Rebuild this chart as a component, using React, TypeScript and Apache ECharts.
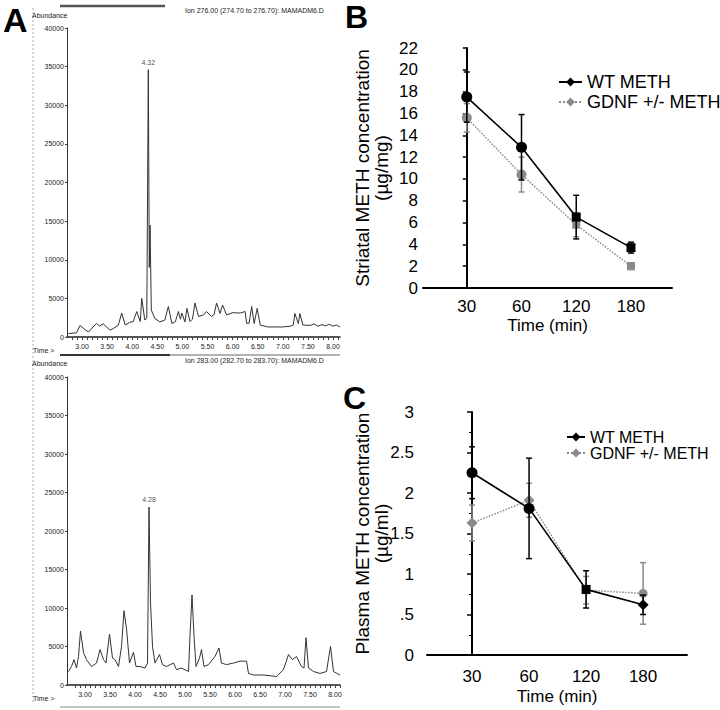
import React, { useEffect, useRef } from "react";
import * as echarts from "echarts";

// ---------- Panel A: chromatograms ----------
const chromTimeLabels = [3, 3.5, 4, 4.5, 5, 5.5, 6, 6.5, 7, 7.5, 8];

const topTimes = [2.73, 2.89, 2.96, 3.05, 3.13, 3.22, 3.29, 3.35, 3.42, 3.56, 3.62, 3.72, 3.79, 3.86, 3.95, 4.02, 4.09, 4.16, 4.19, 4.25, 4.29, 4.32, 4.34, 4.355, 4.38, 4.45, 4.55, 4.65, 4.72, 4.79, 4.86, 4.92, 4.96, 4.99, 5.05, 5.09, 5.15, 5.2, 5.25, 5.32, 5.42, 5.48, 5.58, 5.63, 5.68, 5.75, 5.8, 5.88, 6.0, 6.15, 6.25, 6.28, 6.33, 6.38, 6.43, 6.49, 6.55, 6.7, 6.85, 7.0, 7.15, 7.21, 7.24, 7.31, 7.34, 7.4, 7.55, 7.62, 7.7, 7.78, 7.85, 7.93, 8.0, 8.07, 8.14];
const topAbundance = [440, 550, 1500, 1000, 650, 1300, 1750, 1400, 1700, 880, 1100, 1500, 3100, 1550, 1900, 2000, 3300, 2000, 5000, 2200, 2400, 34600, 9000, 14500, 3500, 2400, 1950, 2200, 3950, 1750, 2000, 3300, 2300, 3100, 1950, 3700, 2000, 2300, 4400, 2650, 2850, 3300, 2650, 2900, 4400, 3050, 4150, 2850, 3150, 3100, 3300, 1750, 1800, 3950, 1750, 3700, 1550, 1300, 1300, 1300, 1400, 1550, 3050, 1750, 3050, 1550, 1500, 1700, 1400, 1600, 1450, 1650, 1400, 1550, 1300];
const topPeakTime = [4.32];
const topPeakAbundance = [34600];
const topPeakLabel = ["4.32"];

const bottomTimes = [2.67, 2.73, 2.78, 2.83, 2.87, 2.91, 2.97, 3.03, 3.13, 3.23, 3.3, 3.37, 3.42, 3.49, 3.55, 3.6, 3.67, 3.73, 3.78, 3.83, 3.89, 3.97, 4.02, 4.1, 4.2, 4.25, 4.28, 4.31, 4.35, 4.4, 4.49, 4.55, 4.63, 4.77, 4.83, 4.93, 5.07, 5.1, 5.14, 5.18, 5.22, 5.29, 5.33, 5.38, 5.47, 5.6, 5.68, 5.73, 5.83, 5.97, 6.1, 6.23, 6.27, 6.37, 6.57, 6.83, 6.97, 7.07, 7.15, 7.23, 7.33, 7.38, 7.42, 7.47, 7.57, 7.7, 7.83, 7.91, 7.97, 8.1];
const bottomAbundance = [1750, 2400, 3300, 2200, 3700, 7000, 4200, 3300, 2400, 2850, 4600, 3300, 2850, 6600, 3500, 3300, 2400, 5000, 9650, 7300, 2850, 4250, 2400, 2400, 2200, 2850, 23100, 10750, 5000, 2850, 3950, 2650, 2400, 2850, 2000, 2200, 1750, 6400, 11700, 6400, 2400, 3500, 4600, 2400, 2650, 3700, 4800, 2850, 2650, 2850, 3100, 3100, 1500, 1300, 1300, 1100, 2000, 3950, 3300, 3700, 2400, 2200, 6150, 2200, 1750, 1500, 1750, 5000, 1750, 1300];
const bottomPeakTime = [4.28];
const bottomPeakAbundance = [23100];
const bottomPeakLabel = ["4.28"];

// ---------- Panels B & C ----------
const timeCategories = ["30", "60", "120", "180"];

const striatalWT = [17.5, 12.9, 6.5, 3.7];
const striatalWTErr = [2.3, 3.0, 2.0, 0.5];
const striatalGDNF = [15.6, 10.4, 5.8, 2.0];
const striatalGDNFErr = [1.3, 1.6, 1.1, 0.3];

const plasmaWT = [2.25, 1.81, 0.81, 0.62];
const plasmaWTErr = [0.32, 0.62, 0.23, 0.12];
const plasmaGDNF = [1.63, 1.91, 0.8, 0.76];
const plasmaGDNFErr = [0.22, 0.21, 0.17, 0.38];

const SANS = "'Liberation Sans', Arial, sans-serif";
const GRAY = "#8a8a8a";

const chromTicks: number[] = [];
for (let k = 28; k <= 81; k++) chromTicks.push(k / 10);

function chromX(gridIndex: number, min: number, max: number) {
  return {
    type: "value", gridIndex, min, max,
    axisLine: { show: true, onZero: false, lineStyle: { color: "#222", width: 1.5 } },
    axisTick: { show: true, customValues: chromTicks, length: 3, lineStyle: { color: "#444" } },
    axisLabel: { customValues: chromTimeLabels, formatter: (v: number) => v.toFixed(2), fontSize: 7, fontFamily: SANS, color: "#222", margin: 6 },
    splitLine: { show: false },
  };
}
function chromY(gridIndex: number) {
  return {
    type: "value", gridIndex, min: 0, max: 40000, interval: 5000,
    axisLine: { show: true, lineStyle: { color: "#333", width: 1 } },
    axisTick: { show: true, length: 2, lineStyle: { color: "#444" } },
    axisLabel: { fontSize: 7, fontFamily: SANS, color: "#222", margin: 3, formatter: (v: number) => String(v) },
    splitLine: { show: false },
  };
}

function errorBars(xi: number, vals: number[], errs: number[], color: string, z: number) {
  return {
    type: "custom", xAxisIndex: xi, yAxisIndex: xi, z, silent: true,
    data: vals.map((v, i) => [i, v - errs[i], v + errs[i]]),
    encode: { x: 0, y: [1, 2] },
    renderItem: (params: any, api: any) => {
      const x = api.value(0);
      const top = api.coord([x, api.value(2)]);
      const bot = api.coord([x, api.value(1)]);
      const w = 3;
      const st = { stroke: color, lineWidth: 1.5 };
      return {
        type: "group",
        children: [
          { type: "line", shape: { x1: top[0], y1: top[1], x2: bot[0], y2: bot[1] }, style: st },
          { type: "line", shape: { x1: top[0] - w, y1: top[1], x2: top[0] + w, y2: top[1] }, style: st },
          { type: "line", shape: { x1: bot[0] - w, y1: bot[1], x2: bot[0] + w, y2: bot[1] }, style: st },
        ],
      };
    },
  };
}

function lineSeries(name: string, xi: number, vals: number[], symbols: string[], sizes: number[], color: string, dotted: boolean, z: number) {
  return {
    type: "line", name, xAxisIndex: xi, yAxisIndex: xi, z,
    symbol: "diamond", symbolSize: 10,
    data: vals.map((v, i) => ({ value: [i, v], symbol: symbols[i], symbolSize: sizes[i] })),
    lineStyle: { color, width: dotted ? 1.5 : 1.6, type: dotted ? "dotted" : "solid" },
    itemStyle: { color },
  };
}

function catX(gridIndex: number, min: number, max: number, margin: number, nameGap: number) {
  return {
    type: "value", gridIndex, min, max,
    axisLine: { show: true, onZero: false, lineStyle: { color: "#000", width: 2 } },
    axisTick: { show: false },
    axisLabel: { customValues: [0, 1, 2, 3], formatter: (v: number) => timeCategories[Math.round(v)], fontSize: 17, fontFamily: SANS, color: "#000", margin },
    splitLine: { show: false },
    name: "Time (min)", nameLocation: "middle", nameGap, nameMoveOverlap: false,
    nameTextStyle: { fontSize: 17, fontFamily: SANS, color: "#000" },
  };
}

function buildOption() {
  return {
    animation: false,
    backgroundColor: "#fff",
    grid: [
      { left: 67, top: 28, width: 273, height: 309, outerBoundsMode: "none" },
      { left: 67, top: 377, width: 273, height: 308, outerBoundsMode: "none" },
      { left: 423, top: 48, width: 249, height: 240, outerBoundsMode: "none" },
      { left: 427, top: 412, width: 260, height: 243, outerBoundsMode: "none" },
    ],
    xAxis: [
      chromX(0, 2.7, 8.14),
      chromX(1, 2.64, 8.1),
      catX(2, -0.8, 3.75, 10, 29),
      catX(3, -0.79, 3.77, 13, 33),
    ],
    yAxis: [
      chromY(0),
      chromY(1),
      {
        type: "value", gridIndex: 2, min: 0, max: 22, interval: 2,
        axisLine: { show: true, lineStyle: { color: "#000", width: 2 } },
        axisTick: { show: true, length: 4, lineStyle: { color: "#000", width: 1.5 } },
        axisLabel: { fontSize: 17, fontFamily: SANS, color: "#000", margin: 5 },
        splitLine: { show: false },
        name: "Striatal METH concentration\n(µg/mg)", nameLocation: "middle", nameGap: 32, nameMoveOverlap: false,
        nameTextStyle: { fontSize: 19, fontFamily: SANS, color: "#000", lineHeight: 19 },
      },
      {
        type: "value", gridIndex: 3, min: 0, max: 3, interval: 0.5,
        axisLine: { show: true, lineStyle: { color: "#000", width: 2 } },
        axisTick: { show: true, length: 5, lineStyle: { color: "#000", width: 1.5 } },
        minorTick: { show: true, splitNumber: 2, length: 3, lineStyle: { color: "#000", width: 1 } },
        axisLabel: { fontSize: 17, fontFamily: SANS, color: "#000", margin: 13, formatter: (v: number) => (v > 0 && v < 1 ? String(v).replace(/^0/, "") : String(v)) },
        splitLine: { show: false },
        name: "Plasma METH concentration\n(µg/ml)", nameLocation: "middle", nameGap: 36, nameMoveOverlap: false,
        nameTextStyle: { fontSize: 19, fontFamily: SANS, color: "#000", lineHeight: 19 },
      },
    ],
    legend: [
      {
        left: 558, top: 73, orient: "vertical", itemGap: 2, padding: 0, itemWidth: 23, itemHeight: 11,
        textStyle: { fontSize: 18, fontFamily: SANS, color: "#000", lineHeight: 18 },
        data: ["WT METH", "GDNF +/- METH"],
      },
      {
        left: 566, top: 429, orient: "vertical", itemGap: 0, padding: 0, itemWidth: 18, itemHeight: 11,
        textStyle: { fontSize: 16, fontFamily: SANS, color: "#000", lineHeight: 16 },
        data: ["WT METH", "GDNF +/- METH"],
      },
    ],
    series: [
      {
        type: "line", xAxisIndex: 0, yAxisIndex: 0, showSymbol: false, silent: true,
        data: topTimes.map((t, i) => [t, topAbundance[i]]),
        lineStyle: { color: "#333", width: 1 },
      },
      {
        type: "scatter", xAxisIndex: 0, yAxisIndex: 0, symbolSize: 0, silent: true,
        data: topPeakTime.map((t, i) => [t, topPeakAbundance[i]]),
        label: { show: true, position: "top", distance: 4, formatter: (p: any) => topPeakLabel[p.dataIndex], fontSize: 7, fontFamily: SANS, color: "#222" },
      },
      {
        type: "line", xAxisIndex: 1, yAxisIndex: 1, showSymbol: false, silent: true,
        data: bottomTimes.map((t, i) => [t, bottomAbundance[i]]),
        lineStyle: { color: "#333", width: 1 },
      },
      {
        type: "scatter", xAxisIndex: 1, yAxisIndex: 1, symbolSize: 0, silent: true,
        data: bottomPeakTime.map((t, i) => [t, bottomPeakAbundance[i]]),
        label: { show: true, position: "top", distance: 4, formatter: (p: any) => bottomPeakLabel[p.dataIndex], fontSize: 7, fontFamily: SANS, color: "#222" },
      },
      errorBars(2, striatalGDNF, striatalGDNFErr, GRAY, 2),
      lineSeries("GDNF +/- METH", 2, striatalGDNF, ["circle", "circle", "rect", "rect"], [10, 10, 8, 8], GRAY, true, 3),
      errorBars(2, striatalWT, striatalWTErr, "#000", 4),
      lineSeries("WT METH", 2, striatalWT, ["circle", "circle", "rect", "rect"], [11, 11, 9, 9], "#000", false, 5),
      errorBars(3, plasmaGDNF, plasmaGDNFErr, GRAY, 2),
      lineSeries("GDNF +/- METH", 3, plasmaGDNF, ["diamond", "diamond", "rect", "circle"], [11, 11, 8, 9], GRAY, true, 3),
      errorBars(3, plasmaWT, plasmaWTErr, "#000", 4),
      lineSeries("WT METH", 3, plasmaWT, ["circle", "circle", "rect", "diamond"], [11, 11, 9, 11], "#000", false, 5),
    ],
    graphic: [
      { type: "line", shape: { x1: 33, y1: 8, x2: 33, y2: 702 }, style: { stroke: "#aaa", lineWidth: 1, lineDash: [2, 2] }, silent: true },
      { type: "line", shape: { x1: 60, y1: 6, x2: 165, y2: 6 }, style: { stroke: "#555", lineWidth: 2.5 }, silent: true },
      { type: "line", shape: { x1: 60, y1: 355, x2: 340, y2: 355 }, style: { stroke: "#666", lineWidth: 1.2 }, silent: true },
      { type: "line", shape: { x1: 60, y1: 355, x2: 170, y2: 355 }, style: { stroke: "#333", lineWidth: 2 }, silent: true },
      { type: "line", shape: { x1: 60, y1: 707, x2: 340, y2: 707 }, style: { stroke: "#888", lineWidth: 1.2 }, silent: true },
      { type: "text", left: 3, top: 3, style: { text: "A", fontSize: 34, fontWeight: "bold", fontFamily: SANS, fill: "#000" } },
      { type: "text", x: 345, y: 17, style: { text: "B", fontSize: 32, fontWeight: "bold", fontFamily: SANS, fill: "#000", verticalAlign: "middle" } },
      { type: "text", x: 343, y: 398, style: { text: "C", fontSize: 32, fontWeight: "bold", fontFamily: SANS, fill: "#000", verticalAlign: "middle" } },
      { type: "text", x: 32, y: 15, style: { text: "Abundance", fontSize: 7, fontFamily: SANS, fill: "#222", verticalAlign: "middle" } },
      { type: "text", x: 32, y: 363, style: { text: "Abundance", fontSize: 7, fontFamily: SANS, fill: "#222", verticalAlign: "middle" } },
      { type: "text", x: 33, y: 350, style: { text: "Time >", fontSize: 7, fontFamily: SANS, fill: "#222", verticalAlign: "middle" } },
      { type: "text", x: 33, y: 698, style: { text: "Time >", fontSize: 7, fontFamily: SANS, fill: "#222", verticalAlign: "middle" } },
      { type: "text", x: 185, y: 10, style: { text: "Ion 276.00 (274.70 to 276.70): MAMADM6.D", fontSize: 7, fontFamily: SANS, fill: "#222", verticalAlign: "middle" } },
      { type: "text", x: 185, y: 360, style: { text: "Ion 283.00 (282.70 to 283.70): MAMADM6.D", fontSize: 7, fontFamily: SANS, fill: "#222", verticalAlign: "middle" } },
    ],
  };
}

export default function App() {
  const ref = useRef<HTMLDivElement>(null);
  useEffect(() => {
    document.body.style.margin = "0";
    const chart = echarts.init(ref.current as HTMLDivElement, undefined, { renderer: "svg" });
    chart.setOption(buildOption() as any);
    return () => chart.dispose();
  }, []);
  return <div ref={ref} style={{ width: 720, height: 710, position: "absolute", left: 0, top: 0, background: "#fff" }} />;
}
